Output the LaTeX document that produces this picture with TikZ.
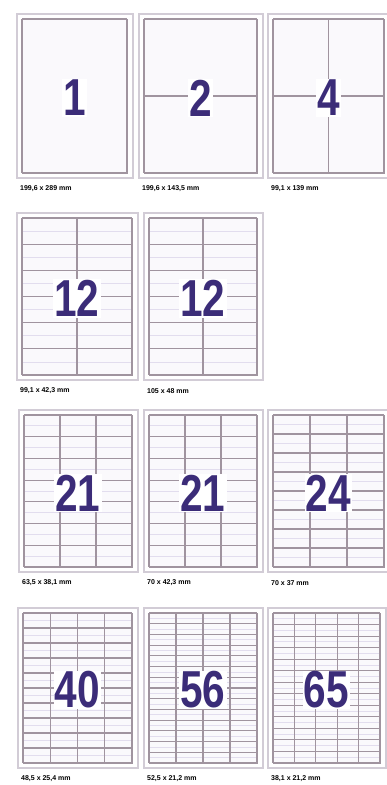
\documentclass[tikz,border=0pt]{standalone}
\usepackage{fontspec}
\setmainfont{Liberation Sans}
\usepackage{graphicx}
\usepackage{tikz}
\definecolor{sheetedge}{HTML}{D2CCD6}
\definecolor{gridline}{HTML}{A0949F}
\definecolor{gridfaint}{HTML}{E2DDEE}
\definecolor{countink}{HTML}{3B2C78}
\definecolor{sheettint}{HTML}{FAF9FC}
\tikzset{
	sheetbox/.style={draw=sheetedge, line width=2pt, fill=white},
	labelarea/.style={draw=gridline, line width=1pt, fill=sheettint},
	gridrule/.style={draw=gridline, line width=1.1pt},
	faintrule/.style={draw=gridfaint, line width=0.8pt},
	countlabel/.style={fill=white, inner sep=1pt, text=countink,
		font=\fontsize{52}{52}\selectfont\bfseries},
	sizelabel/.style={anchor=west, inner sep=0pt, text=black,
		font=\fontsize{7}{8}\selectfont\bfseries}
}
% one sheet of labels: name, corners, columns, rows, count, size
\newcommand{\labelsheet}[9]{
	\draw[sheetbox] (#2,#3) rectangle (#4,#5);
	\draw[labelarea] (#2+5,#3+5) rectangle (#4-6,#5-5);
	\pgfmathsetmacro{\cellw}{(#4-#2-11)/#6}
	\pgfmathsetmacro{\cellh}{(#5-#3-10)/#7}
	\ifnum#7>5
		\foreach \r in {1,...,#7}
			\draw[faintrule] (#2+5,#3+5+\r*\cellh-0.5*\cellh) -- (#4-6,#3+5+\r*\cellh-0.5*\cellh);
	\fi
	\foreach \c in {0,...,#6}
		\draw[gridrule] (#2+5+\c*\cellw,#3+5) -- (#2+5+\c*\cellw,#5-5);
	\foreach \r in {0,...,#7}
		\draw[gridrule] (#2+5,#3+5+\r*\cellh) -- (#4-6,#3+5+\r*\cellh);
	\node[countlabel] (#1) at ({(#2+#4-1)/2},{(#3+#5)/2+2}) {\scalebox{0.78}[1]{#8}};
	\node[sizelabel] (#1-size) at (#2+3,#5+11) {#9};
}

\begin{document}
\begin{tikzpicture}[x=1pt, y=-1pt]
	\useasboundingbox (0,0) rectangle (386,785);
	% row 1
	\labelsheet{one}{17}{14}{133}{178}{1}{1}{1}{199,6 x 289 mm}
	\labelsheet{two}{139}{14}{263}{178}{1}{2}{2}{199,6 x 143,5 mm}
	\labelsheet{four}{268}{14}{390}{178}{2}{2}{4}{99,1 x 139 mm}
	% row 2
	\labelsheet{twelveA}{17}{213}{138}{380}{2}{6}{12}{99,1 x 42,3 mm}
	\labelsheet{twelveB}{144}{213}{263}{380}{2}{6}{12}{105 x 48 mm}
	% row 3
	\labelsheet{twentyoneA}{19}{410}{138}{572}{3}{7}{21}{63,5 x 38,1 mm}
	\labelsheet{twentyoneB}{144}{410}{263}{572}{3}{7}{21}{70 x 42,3 mm}
	\labelsheet{twentyfour}{268}{410}{390}{572}{3}{8}{24}{70 x 37 mm}
	% row 4
	\labelsheet{forty}{18}{608}{138}{768}{4}{10}{40}{48,5 x 25,4 mm}
	\labelsheet{fiftysix}{144}{608}{263}{768}{4}{14}{56}{52,5 x 21,2 mm}
	\labelsheet{sixtyfive}{268}{608}{386}{768}{5}{13}{65}{38,1 x 21,2 mm}
\end{tikzpicture}
\end{document}
